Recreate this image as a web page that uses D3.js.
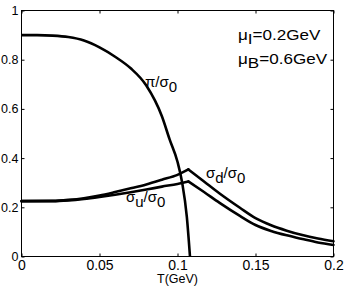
<!DOCTYPE html>
<html>
<head>
<meta charset="utf-8">
<script src="https://cdn.jsdelivr.net/npm/d3@7/dist/d3.min.js"></script>
<style>
  body { margin: 0; background: #fff; }
  svg { display: block; font-family: "Liberation Sans", Arial, sans-serif; }
</style>
</head>
<body>
<div id="chart"></div>
<script>
// temperatures (GeV) and ratios
const piT   = [0, 0.01, 0.02, 0.03, 0.04, 0.05, 0.06, 0.07, 0.08, 0.09, 0.095, 0.1, 0.103, 0.106, 0.108];
const piVal = [0.9, 0.9, 0.898, 0.892, 0.878, 0.85, 0.812, 0.765, 0.695, 0.57, 0.475, 0.385, 0.3, 0.16, 0.0];

const sigT = [0, 0.02, 0.03, 0.04, 0.05, 0.06, 0.07, 0.08, 0.09, 0.1, 0.107,
              0.117, 0.127, 0.14, 0.15, 0.16, 0.17, 0.18, 0.19, 0.2];
const sigD = [0.225, 0.226, 0.23, 0.237, 0.248, 0.262, 0.277, 0.293, 0.312, 0.332, 0.354,
              0.305, 0.256, 0.198, 0.156, 0.127, 0.105, 0.087, 0.073, 0.062];
const sigU = [0.225, 0.225, 0.228, 0.234, 0.242, 0.251, 0.261, 0.272, 0.284, 0.295, 0.305,
              0.262, 0.218, 0.165, 0.128, 0.104, 0.086, 0.071, 0.057, 0.047];
const peakIndex = 10;

const xTicks = [0, 0.05, 0.1, 0.15, 0.2];
const yTicks = [0, 0.2, 0.4, 0.6, 0.8, 1];

const width = 346, height = 288;
const plotLeft = 21.5, plotRight = 333.5, plotTop = 10.5, plotBottom = 256.5;

const svg = d3.select("#chart").append("svg")
    .attr("width", width)
    .attr("height", height);

const x = d3.scaleLinear().domain([0, 0.2]).range([plotLeft, plotRight]);
const y = d3.scaleLinear().domain([0, 1]).range([plotBottom, plotTop]);

// axes with inward ticks on all four sides
const fmt = d => d === 0 ? "0" : d === 1 ? "1" : String(+d.toFixed(2));

svg.append("g")
   .attr("transform", `translate(0,${plotBottom})`)
   .call(d3.axisBottom(x).tickValues(xTicks).tickFormat(fmt).tickSizeInner(-3).tickSizeOuter(0).tickPadding(4))
   .call(g => g.selectAll("text").attr("font-size", 14).attr("fill", "#000").attr("font-family", "Liberation Sans, Arial, sans-serif"));

svg.append("g")
   .attr("transform", `translate(${plotLeft},0)`)
   .call(d3.axisLeft(y).tickValues(yTicks).tickFormat(fmt).tickSizeInner(-3).tickSizeOuter(0).tickPadding(3))
   .call(g => g.selectAll("text").attr("font-size", 12.5).attr("fill", "#000").attr("font-family", "Liberation Sans, Arial, sans-serif"));

svg.append("g")
   .attr("transform", `translate(0,${plotTop})`)
   .call(d3.axisTop(x).tickValues(xTicks).tickFormat("").tickSizeInner(-3).tickSizeOuter(0));

svg.append("g")
   .attr("transform", `translate(${plotRight},0)`)
   .call(d3.axisRight(y).tickValues(yTicks).tickFormat("").tickSizeInner(-3).tickSizeOuter(0));

svg.selectAll(".domain").remove();
svg.selectAll(".tick line").attr("stroke", "#000");

// frame
svg.append("rect")
   .attr("x", plotLeft).attr("y", plotTop)
   .attr("width", plotRight - plotLeft).attr("height", plotBottom - plotTop)
   .attr("fill", "none").attr("stroke", "#000").attr("stroke-width", 1);

// curves
const line = d3.line()
    .x(d => x(d[0]))
    .y(d => y(d[1]))
    .curve(d3.curveMonotoneX);

const piData = piT.map((t, i) => [t, piVal[i]]);
svg.append("path")
   .attr("d", line(piData))
   .attr("fill", "none").attr("stroke", "#000").attr("stroke-width", 2.6);

[sigD, sigU].forEach(vals => {
    const pts = sigT.map((t, i) => [t, vals[i]]);
    const rise = pts.slice(0, peakIndex + 1);
    const fall = pts.slice(peakIndex);
    [rise, fall].forEach(seg => {
        svg.append("path")
           .attr("d", line(seg))
           .attr("fill", "none").attr("stroke", "#000")
           .attr("stroke-width", 2.6).attr("stroke-linejoin", "round").attr("stroke-linecap", "round");
    });
});

// labels with subscripts (sx stretches the text sideways like the original)
function label(px, py, parts, size, sx) {
    const t = svg.append("text")
        .attr("transform", `translate(${px},${py}) scale(${sx || 1},1)`)
        .attr("font-size", size).attr("fill", "#000");
    parts.forEach(p => {
        const s = t.append("tspan").text(p[0]);
        if (p[1] === "sub") s.attr("baseline-shift", "-30%");
    });
}

label(145, 87, [["π/σ"], ["0", "sub"]], 15);
label(206, 178, [["σ"], ["d", "sub"], ["/σ"], ["0", "sub"]], 15);
label(126, 202, [["σ"], ["u", "sub"], ["/σ"], ["0", "sub"]], 15);
label(238, 40, [["μ"], ["I", "sub"], ["=0.2GeV"]], 14, 1.22);
label(238, 64, [["μ"], ["B", "sub"], ["=0.6GeV"]], 14, 1.22);

svg.append("text")
   .attr("x", x(0.1)).attr("y", 283)
   .attr("text-anchor", "middle")
   .attr("font-size", 12.5).attr("fill", "#000")
   .text("T(GeV)");
</script>
</body>
</html>
